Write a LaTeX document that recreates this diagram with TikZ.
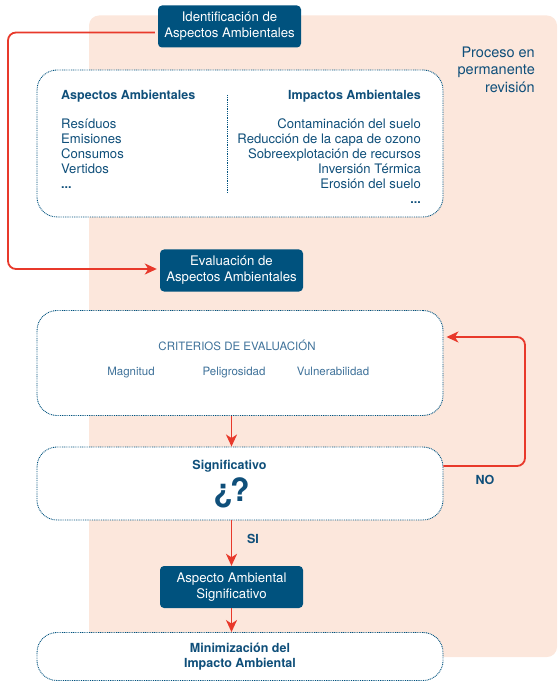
\documentclass[tikz,border=0pt]{standalone}
\usepackage{fontspec}
\setmainfont{TeX Gyre Heros}
\usetikzlibrary{arrows.meta}
\definecolor{peach}{HTML}{FCE7DC}
\definecolor{dblue}{HTML}{00527E}
\definecolor{tblue}{HTML}{0F4F7A}
\definecolor{lblue}{HTML}{3F729A}
\definecolor{ared}{HTML}{E8392B}
\tikzset{
  darkbox/.style={fill=dblue, rounded corners=4pt, text=white, align=center,
    minimum width=143pt, minimum height=42pt, inner sep=0pt,
    font=\fontsize{13.2}{16}\selectfont},
  dotbox/.style={draw=dblue, line width=0.9pt, dash pattern=on 0.9pt off 0.9pt,
    fill=white, rounded corners=20pt, minimum width=406pt, inner sep=0pt},
  redline/.style={draw=ared, line width=1.8pt, rounded corners=8pt,
    -{Stealth[length=12pt,width=11pt,inset=3.5pt]}},
  listtxt/.style={text=tblue, inner sep=0pt, font=\fontsize{13.1}{15}\selectfont},
  headtxt/.style={text=tblue, inner sep=0pt, font=\fontsize{12.5}{15}\selectfont\bfseries},
  crittxt/.style={text=lblue, inner sep=0pt, anchor=base, font=\fontsize{11.5}{14}\selectfont},
}
\begin{document}
\begin{tikzpicture}[x=1pt,y=-1pt]
\useasboundingbox (0,0) rectangle (558,684);
% background
\fill[peach, rounded corners=10pt] (89,15.5) rectangle (557,657);

% dark boxes
\node[darkbox] (ident) at (229.5,26.5) {Identificación de\\Aspectos Ambientales};
\node[darkbox] (ev) at (231.5,270.5) {Evaluación de\\Aspectos Ambientales};
\node[darkbox] (aas) at (231.5,587) {Aspecto Ambiental\\Significativo};

% dotted boxes
\node[dotbox, minimum height=147pt] (asp) at (240,143.5) {};
\node[dotbox, minimum height=105pt] (crit) at (240,363) {};
\node[dotbox, minimum height=73pt] (sig) at (240,483.5) {};
\node[dotbox, minimum height=48pt, align=center, text=tblue,
  font=\fontsize{12.5}{15}\selectfont\bfseries] (min) at (240,656.5)
  {Minimización del\\Impacto Ambiental};

% process label
\node[anchor=east, align=right, text=tblue, inner sep=0pt,
  font=\fontsize{14.5}{17.5}\selectfont] (proc) at (535,69.5)
  {Proceso en\\permanente\\revisión};

% aspectos content
\node[headtxt, anchor=base west] (ha) at (61,99.5) {Aspectos Ambientales};
\node[headtxt, anchor=base east] (hi) at (421,99.5) {Impactos Ambientales};
\foreach \t [count=\i] in {Resíduos,Emisiones,Consumos,Vertidos}
  \node[listtxt, anchor=base west] (la\i) at (61,113.5+15*\i) {\t};
\node[headtxt, anchor=base west] (la5) at (61,188.5) {...};
\foreach \t [count=\i] in {Contaminación del suelo,Reducción de la capa de ozono,Sobreexplotación de recursos,Inversión Térmica,Erosión del suelo}
  \node[listtxt, anchor=base east] (li\i) at (421,113.5+15*\i) {\t};
\node[headtxt, anchor=base east] (li6) at (421,203.5) {...};
\coordinate (dtop) at (227,95);
\coordinate (dbot) at (227,193);
\draw[dblue, line width=0.9pt, dash pattern=on 0.9pt off 0.9pt] (dtop) -- (dbot);

% criterios content
\node[crittxt] (ct) at (237,350.5) {CRITERIOS DE EVALUACIÓN};
\node[crittxt] (c1) at (131,375.5) {Magnitud};
\node[crittxt] (c2) at (234,375.5) {Peligrosidad};
\node[crittxt] (c3) at (333,375.5) {Vulnerabilidad};

% significativo content
\node[headtxt] (st) at (229.5,466.5) {Significativo};
\node[text=tblue, inner sep=0pt, font=\fontsize{32}{32}\selectfont\bfseries] (q) at (231.5,493) {¿\kern-3pt?};

% connectors
\coordinate (lc) at (8,0);
\coordinate (rc) at (525,0);
\coordinate (s1) at ([xshift=-3pt,yshift=-6pt]ident.west);
\coordinate (e1) at ([xshift=-3pt,yshift=1.5pt]ev.west);
\coordinate (s2) at ([yshift=17.5pt]sig.east);
\coordinate (e2) at ([xshift=3pt,yshift=26pt]crit.east);
\draw[redline] (s1) -- (lc |- s1) -- (lc |- e1) -- (e1);
\draw[redline] (s2) -- (rc |- s2) -- (rc |- e2) -- (e2);
\draw[redline] (ev.center |- crit.south) -- (ev.center |- sig.north);
\draw[redline] (aas.center |- sig.south) -- (aas.north);
\draw[redline] (aas.south) -- (aas.center |- min.north);

% labels
\node[headtxt] (no) at (485,480) {NO};
\node[headtxt] (si) at (253,539) {SI};
\end{tikzpicture}
\end{document}
